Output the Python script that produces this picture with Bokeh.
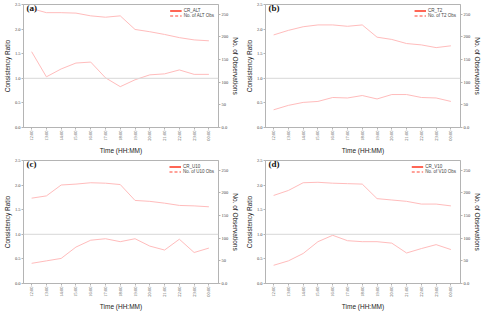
import math
from bokeh.plotting import figure
from bokeh.layouts import gridplot
from bokeh.models import (Range1d, LinearAxis, FixedTicker, Span, Legend, LegendItem,
                          Label, PrintfTickFormatter, ColumnDataSource)
from bokeh.embed import file_html
from bokeh.resources import INLINE

times = ["12:00", "13:00", "14:00", "15:00", "16:00", "17:00", "18:00",
         "19:00", "20:00", "21:00", "22:00", "23:00", "00:00"]

cr_alt = [1.54, 1.03, 1.19, 1.31, 1.33, 1.01, 0.83, 0.97, 1.07, 1.09, 1.17, 1.08, 1.08]
obs_alt = [262, 253, 253, 252, 246, 243, 246, 216, 211, 205, 198, 193, 191]

cr_t2 = [0.36, 0.45, 0.51, 0.53, 0.61, 0.60, 0.65, 0.58, 0.67, 0.67, 0.61, 0.60, 0.53]
obs_t2 = [204, 214, 222, 226, 226, 223, 226, 199, 194, 185, 182, 176, 180]

cr_u10 = [0.41, 0.46, 0.51, 0.74, 0.88, 0.91, 0.85, 0.91, 0.76, 0.68, 0.90, 0.63, 0.72]
obs_u10 = [188, 193, 217, 219, 222, 221, 218, 183, 181, 177, 172, 171, 169]

cr_v10 = [0.37, 0.46, 0.61, 0.85, 0.98, 0.87, 0.85, 0.85, 0.82, 0.62, 0.71, 0.79, 0.69]
obs_v10 = [194, 205, 222, 223, 221, 220, 219, 187, 184, 181, 175, 175, 171]

panels = [("(a)", "ALT", cr_alt, obs_alt),
          ("(b)", "T2", cr_t2, obs_t2),
          ("(c)", "U10", cr_u10, obs_u10),
          ("(d)", "V10", cr_v10, obs_v10)]

left_ticks = [0.0, 0.5, 1.0, 1.5, 2.0, 2.5]
right_ticks = [0, 50, 100, 150, 200, 250]

LINE_COLOR = "#ffbcbc"
AXIS_COLOR = "#b4b4b4"
TICK_FONT = "Liberation Serif"
TITLE_FONT = "Liberation Sans"


def style_axis(ax):
    ax.axis_line_color = AXIS_COLOR
    ax.major_tick_line_color = AXIS_COLOR
    ax.minor_tick_line_color = None
    ax.major_tick_out = 2
    ax.major_tick_in = 0
    ax.major_label_text_font = TICK_FONT
    ax.major_label_text_font_size = "4.5px"
    ax.major_label_text_color = "#444444"
    ax.major_label_standoff = 1
    ax.axis_label_text_font = TITLE_FONT
    ax.axis_label_text_font_size = "6.5px"
    ax.axis_label_text_font_style = "normal"
    ax.axis_label_text_color = "#222222"
    ax.axis_label_standoff = 1


def make_panel(tag, var, cr, obs):
    xs = list(range(len(times)))
    p = figure(width=242, height=156, output_backend="svg", toolbar_location=None,
               x_range=Range1d(-0.55, len(times) - 1 + 0.65),
               y_range=Range1d(0, 2.5),
               min_border_left=5, min_border_right=5, min_border_top=4,
               min_border_bottom=5)
    p.outline_line_color = AXIS_COLOR
    p.xgrid.grid_line_color = None
    p.ygrid.grid_line_color = None
    p.extra_y_ranges = {"obs": Range1d(0, 271)}

    # x axis
    p.xaxis.ticker = FixedTicker(ticks=xs)
    p.xaxis.major_label_overrides = {i: t for i, t in enumerate(times)}
    p.xaxis.major_label_orientation = math.pi / 2
    p.xaxis.axis_label = "Time (HH:MM)"
    style_axis(p.xaxis[0])
    p.xaxis.axis_label_standoff = 3

    # left axis
    p.yaxis.ticker = FixedTicker(ticks=left_ticks)
    p.yaxis.formatter = PrintfTickFormatter(format="%.1f")
    p.yaxis.axis_label = "Consistency Ratio"
    style_axis(p.yaxis[0])

    # right axis
    ra = LinearAxis(y_range_name="obs", axis_label="No. of Observations",
                    ticker=FixedTicker(ticks=right_ticks))
    ra.major_label_overrides = {0: "0.0"}
    style_axis(ra)
    ra.axis_label_orientation = "vertical"
    p.add_layout(ra, "right")

    # reference line at 1.0
    p.add_layout(Span(location=1.0, dimension="width", line_color="#d8d8d8",
                      line_width=1))

    src = ColumnDataSource(dict(x=xs, cr=cr, obs=obs))
    p.line("x", "cr", source=src, line_color=LINE_COLOR, line_width=1)
    p.line("x", "obs", source=src, y_range_name="obs", line_color=LINE_COLOR,
           line_width=1)

    # legend proxies (single NaN point, nothing drawn in the frame)
    nan_src = ColumnDataSource(dict(x=[float("nan")], y=[float("nan")]))
    r1 = p.line("x", "y", source=nan_src, line_color="#ff6655", line_width=2)
    r2 = p.line("x", "y", source=nan_src, line_color="#ff4433", line_width=1.2,
                line_dash="3 2")
    leg = Legend(items=[LegendItem(label="CR_" + var, renderers=[r1]),
                        LegendItem(label="No. of " + var + " Obs", renderers=[r2])],
                 location="top_right")
    leg.label_text_font = TITLE_FONT
    leg.label_text_font_size = "4.5px"
    leg.label_height = 5
    leg.glyph_height = 5
    leg.glyph_width = 12
    leg.label_standoff = 2
    leg.spacing = 0
    leg.padding = 1
    leg.margin = 3
    leg.border_line_alpha = 0
    leg.background_fill_alpha = 0
    p.add_layout(leg)

    p.add_layout(Label(x=-0.35, y=2.33, text=tag, text_font="Liberation Serif",
                       text_font_style="bold", text_font_size="9px",
                       text_color="#111111"))
    return p


figs = [make_panel(*pn) for pn in panels]
grid = gridplot([[figs[0], figs[1]], [figs[2], figs[3]]], toolbar_location=None)

open("out.html", "w").write(file_html(grid, INLINE))
